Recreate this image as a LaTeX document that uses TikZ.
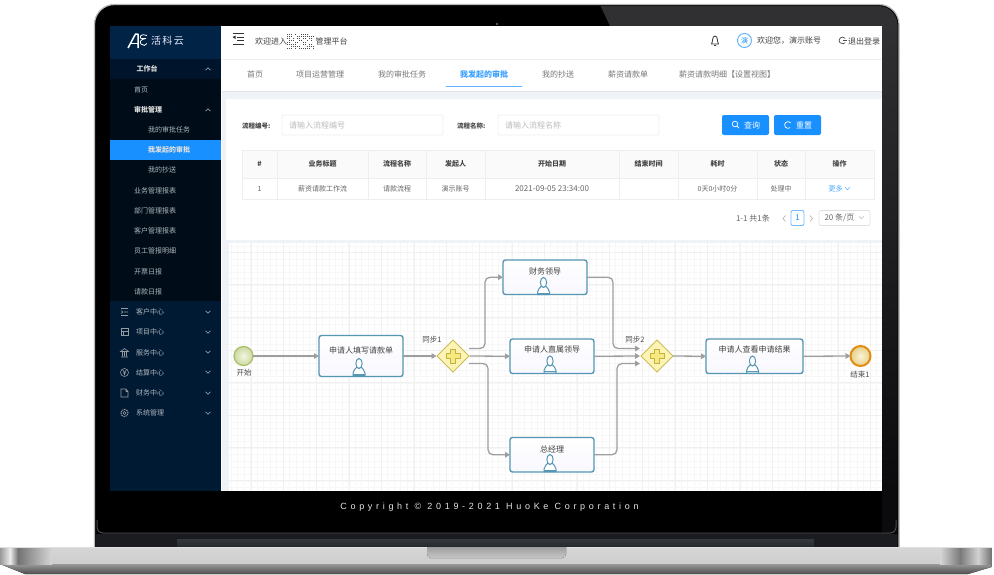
\documentclass[tikz,border=0pt]{standalone}
\usepackage{fontspec}
\setmainfont{Noto Sans CJK SC}
\newfontfamily\cpyfont[LetterSpace=41]{Liberation Sans}
\newfontfamily\logofont[LetterSpace=14]{Noto Sans CJK SC}
\usetikzlibrary{calc,arrows.meta,shapes.geometric}
\definecolor{ablue}{HTML}{1890FF}
\definecolor{sidetop}{HTML}{012446}
\definecolor{sidelow}{HTML}{001A33}
\definecolor{sidesub}{HTML}{000C17}
\definecolor{sidehead}{HTML}{00152B}
\definecolor{sidetxt}{HTML}{AEB6BE}
\definecolor{pagebg}{HTML}{EFF2F6}
\definecolor{lineg}{HTML}{EEEEEE}
\definecolor{tabtxt}{HTML}{777777}
\definecolor{tbltxt}{HTML}{666666}
\definecolor{headtxt}{HTML}{444444}
\definecolor{phold}{HTML}{BBBBBB}
\definecolor{tealb}{HTML}{5596B2}
\definecolor{conn}{HTML}{9E9E9E}
\definecolor{bezelg}{HTML}{303032}
\definecolor{bezeld}{HTML}{0B0B0D}
\definecolor{strip}{HTML}{1A1C20}
\definecolor{hinge}{HTML}{363A40}
\definecolor{hinged}{HTML}{24272B}
\definecolor{gatefill}{HTML}{FCF4B4}
\definecolor{gateline}{HTML}{CDBB55}
\definecolor{plusfill}{HTML}{F6E981}
\definecolor{plusline}{HTML}{C4B13E}
\definecolor{startline}{HTML}{A9C26B}
\definecolor{startin}{HTML}{F3F6E2}
\definecolor{startout}{HTML}{CBD9A0}
\definecolor{endline}{HTML}{E28C12}
\definecolor{endin}{HTML}{FBF4D6}
\definecolor{endout}{HTML}{E6D088}
\definecolor{basetop}{HTML}{D6D6D7}
\definecolor{basebot}{HTML}{CDCDCE}
\tikzset{
  x=1pt,y=-1pt,
  every node/.style={inner sep=0pt,outer sep=0pt},
  sideitem/.style={font=\fontsize{7}{8}\selectfont,text=sidetxt,anchor=west},
  sidebold/.style={sideitem,font=\fontsize{7}{8}\selectfont\bfseries,text=white!88!black},
  sidechev/.style={draw=sidetxt,line width=.6pt},
  sideicon/.style={draw=sidetxt!85!black,line width=.6pt},
  tabitem/.style={font=\fontsize{8}{9}\selectfont,text=tabtxt},
  tabactive/.style={tabitem,font=\fontsize{8}{9}\selectfont\bfseries,text=ablue!85!white},
  headitem/.style={font=\fontsize{8}{9}\selectfont,text=black!75},
  formlabel/.style={font=\fontsize{6.5}{8}\selectfont\bfseries,text=headtxt,anchor=west},
  inputbox/.style={draw=lineg,line width=.8pt,rounded corners=2pt,fill=white,anchor=north west},
  placeholder/.style={font=\fontsize{8}{9}\selectfont,text=phold,anchor=west},
  bluebtn/.style={fill=ablue,rounded corners=2pt,anchor=north west,minimum width=47pt,minimum height=20pt},
  btntxt/.style={font=\fontsize{8}{9}\selectfont,text=white},
  thtxt/.style={font=\fontsize{7}{8}\selectfont\bfseries,text=headtxt},
  tdtxt/.style={font=\fontsize{7}{8}\selectfont,text=tbltxt},
  pagetxt/.style={font=\fontsize{8}{9}\selectfont,text=tbltxt},
  task/.style={draw=tealb,line width=1.4pt,rounded corners=2.5pt,top color=white,bottom color=blue!3!white,anchor=north west},
  tasktxt/.style={font=\fontsize{8}{9}\selectfont,text=black!75},
  gate/.style={diamond,aspect=1,draw=gateline,line width=1pt,fill=gatefill,minimum width=32pt,minimum height=32pt},
  flowlbl/.style={font=\fontsize{7.5}{9}\selectfont,text=black!70},
  flow/.style={draw=conn,line width=1.3pt,rounded corners=5pt,-{Triangle[length=5pt,width=5.5pt]}},
  plus/.pic={
    \draw[plusline,fill=plusfill,line width=.9pt,line join=round]
      (-2.5,-7) -- (2.5,-7) -- (2.5,-2.5) -- (7,-2.5) -- (7,2.5) -- (2.5,2.5) -- (2.5,7) -- (-2.5,7) -- (-2.5,2.5) -- (-7,2.5) -- (-7,-2.5) -- (-2.5,-2.5) -- cycle;
  },
  person/.pic={
    \draw[tealb,line width=1pt,fill=white,line join=round]
      (-6,9) -- (-6,6.5) .. controls (-6,3) and (-3,3) .. (-2.6,1) -- (2.6,1) .. controls (3,3) and (6,3) .. (6,6.5) -- (6,9) -- cycle;
    \draw[tealb,line width=1pt,fill=white] (0,-3) ellipse [x radius=3.1pt,y radius=5pt];
    \draw[tealb,line width=1.2pt] (-6,7.8) -- (6,7.8);
  },
}
\newcommand{\chevup}[2]{\draw[sidechev] (#1-2.5,#2+1.2) -- (#1,#2-1.2) -- (#1+2.5,#2+1.2);}
\newcommand{\chevdn}[3][sidechev]{\draw[#1] (#2-2.5,#3-1.2) -- (#2,#3+1.2) -- (#2+2.5,#3-1.2);}
\begin{document}
\begin{tikzpicture}
\useasboundingbox (0,0) rectangle (994,574);
\fill[white] (0,0) rectangle (994,574);
% ---------- laptop lid
\draw[draw=black!28,line width=1.2pt,fill=black] (94.5,548) [rounded corners=20pt] -- (94.5,4.5) -- (899,4.5) [sharp corners] -- (899,548) -- cycle;
\begin{scope}
\clip (96,548) [rounded corners=19pt] -- (96,6) -- (897.5,6) [sharp corners] -- (897.5,548) -- cycle;
\fill[bezelg] (600,5) -- (899,5) -- (899,26) -- (610,26) -- cycle;
\fill[top color=bezelg,bottom color=bezeld] (882,26) rectangle (899,491);
\fill[bezeld] (882,491) rectangle (899,533);
\fill[strip] (96,534) rectangle (899,548);
\end{scope}
\draw[black!72,line width=1pt,rounded corners=6pt] (97,520) -- (97,533) -- (896,533) -- (896,520);
\fill[top color=hinge,bottom color=hinged] (177,539) rectangle (814,547);
\fill[black!55] (497,24) circle (1.2pt);
% ---------- screen
\fill[white] (110,26) rectangle (882,491);
\fill[pagebg] (222,91) rectangle (882,99);
\fill[pagebg] (222,91) rectangle (226,243);
\fill[pagebg] (222,240) rectangle (882,243);
\fill[pagebg] (222,243) rectangle (229,491);
% ---------- sidebar
\fill[sidelow] (110,26) rectangle (221,491);
\fill[sidetop] (110,26) rectangle (221,59);
\fill[sidehead] (110,59) rectangle (221,79);
\fill[sidesub] (110,79) rectangle (221,301);
\fill[ablue] (110,140) rectangle (221,160);
% logo
\draw[white,line width=1.5pt,line join=round] (128,48) -- (135.5,34) -- (138,34) -- (138,48);
\draw[white,line width=.9pt] (131,43) -- (138,43);
\draw[white,line width=.8pt] (147,35.5) .. controls (141,33) and (139,37) .. (141,38.5) -- (146,38.5) (146,38.5) .. controls (141,39) and (139,42) .. (141,44) .. controls (143,46) and (146,46) .. (147,43.5);
\node[font=\logofont\fontsize{10}{11}\selectfont,text=white!92!blue,anchor=west] (logotxt) at (151,40.5) {活科云};
% menu
\node[sidebold,anchor=center] (m1) at (147,69) {工作台};
\chevup{208}{69}
\node[sideitem] (m2) at (134,89.5) {首页};
\node[sidebold] (m3) at (134,110) {审批管理};
\chevup{208}{110}
\node[sideitem] (m4) at (148,130) {我的审批任务};
\node[sidebold] (m5) at (148,150) {我发起的审批};
\node[sideitem] (m6) at (148,170) {我的抄送};
\node[sideitem] (m7) at (134,190.5) {业务管理报表};
\node[sideitem] (m8) at (134,211) {部门管理报表};
\node[sideitem] (m9) at (134,231) {客户管理报表};
\node[sideitem] (m10) at (134,251) {员工管报明细};
\node[sideitem] (m11) at (134,271.5) {开票日报};
\node[sideitem] (m12) at (134,291.5) {请款日报};
\node[sideitem] (m13) at (136,312) {客户中心};
\node[sideitem] (m14) at (136,332) {项目中心};
\node[sideitem] (m15) at (136,352.5) {服务中心};
\node[sideitem] (m16) at (136,372.5) {结算中心};
\node[sideitem] (m17) at (136,393) {财务中心};
\node[sideitem] (m18) at (136,413) {系统管理};
\foreach \yy in {312,332,352,372,393,413}{\chevdn[sidechev]{208}{\yy}}
% side icons
\draw[sideicon] (121,308.5) -- (128,308.5) (124,312) -- (128,312) (121,315.5) -- (128,315.5) (121,310.5) -- (123,312) -- (121,313.5);
\draw[sideicon] (121,328.5) rectangle (128,335.5) (121,331) -- (128,331) (123.5,331) -- (123.5,335.5);
\draw[sideicon] (120.5,351.5) -- (124.5,348.5) -- (128.5,351.5) -- cycle (121,357) -- (128,357) (122.5,352) -- (122.5,356) (124.5,352) -- (124.5,356) (126.5,352) -- (126.5,356);
\draw[sideicon] (124.5,372.5) circle (4pt) (122.8,370.2) -- (124.5,372.5) -- (126.2,370.2) (124.5,372.5) -- (124.5,375) (123,373) -- (126,373);
\draw[sideicon] (121,389) -- (126,389) -- (128,391.5) -- (128,397) -- (121,397) -- cycle (126,389) -- (126,391.5) -- (128,391.5);
\draw[sideicon,dash pattern=on 1.4pt off .8pt,line width=1pt] (124.5,413) circle (3.6pt);
\draw[sideicon] (124.5,413) circle (1.5pt);
% ---------- header
\draw[black!80,line width=1pt] (233,33.5) -- (243.5,33.5) (236.5,37) -- (243.5,37) (236.5,40.5) -- (243.5,40.5) (233,44.5) -- (243.5,44.5);
\fill[black!80] (232.5,37) -- (235.5,35.5) -- (235.5,39) -- cycle;
\node[headitem,anchor=west] (wel1) at (255,41) {欢迎进入};
\pgfmathsetseed{7}
\foreach \i in {0,...,120}{
  \pgfmathsetmacro{\px}{287+int(rnd*14)*2}
  \pgfmathsetmacro{\py}{34+int(rnd*8)*2}
  \fill[black!70] (\px,\py) rectangle +(1.4,1.4);
}
\node[headitem,anchor=west] (wel2) at (315.5,41) {管理平台};
\draw[black!80,line width=.8pt,line join=round] (711.5,44) .. controls (713,42) and (712,36) .. (715,36) .. controls (718,36) and (717,42) .. (718.5,44) -- cycle (714,45.5) -- (716,45.5);
\node[circle,draw=ablue!65!white,line width=1pt,minimum size=14pt,font=\fontsize{7}{8}\selectfont,text=ablue] (avatar) at (744.5,40.5) {演};
\node[headitem,anchor=west] (hello) at (757,41) {欢迎您，演示账号};
\draw[black!70,line width=.7pt] (845.1,38.3) arc (40:320:3.4pt);
\draw[black!70,line width=.7pt] (842.5,40.5) -- (846.5,40.5);
\node[headitem,anchor=west] (logout) at (848,41) {退出登录};
% ---------- tabs
\draw[lineg,line width=.8pt] (222,59.5) -- (882,59.5);
\draw[black!10,line width=.8pt] (222,91) -- (882,91);
\node[tabitem] (tab1) at (255,74) {首页};
\node[tabitem] (tab2) at (320,74) {项目运营管理};
\node[tabitem] (tab3) at (402,74) {我的审批任务};
\node[tabactive] (tab4) at (484,74) {我发起的审批};
\node[tabitem] (tab5) at (558,74) {我的抄送};
\node[tabitem] (tab6) at (628,74) {薪资请款单};
\node[tabitem] (tab7) at (727,74) {薪资请款明细【设置视图】};
\draw[ablue!70!white,line width=1.1pt] (446,86.5) -- (522,86.5);
% ---------- form
\node[formlabel] (f1) at (242,126) {流程编号:};
\node[inputbox,minimum width=161pt,minimum height=20pt] (in1) at (282,115) {};
\node[placeholder] (ph1) at (289,125.5) {请输入流程编号};
\node[formlabel] (f2) at (457,126) {流程名称:};
\node[inputbox,minimum width=161pt,minimum height=20pt] (in2) at (498,115) {};
\node[placeholder] (ph2) at (505,125.5) {请输入流程名称};
\node[bluebtn] (b1) at (722,115) {};
\node[btntxt,anchor=west] (b1t) at (744,125.5) {查询};
\draw[white,line width=.7pt] (735,124) circle (2.8pt) (737,126) -- (739,128.2);
\node[bluebtn] (b2) at (774,115) {};
\node[btntxt,anchor=west] (b2t) at (796,125.5) {重置};
\draw[white,line width=.7pt] (790.6,122.8) arc (40:310:3.4pt);
% ---------- table
\fill[black!2] (242,150) rectangle (874,178);
\draw[lineg,line width=.8pt] (242,150) rectangle (874,199.5);
\draw[lineg,line width=.8pt] (242,178) -- (874,178);
\foreach \cx in {277,368,426,485,619,678,757,805}{\draw[lineg,line width=.8pt] (\cx,150) -- (\cx,199.5);}
\node[thtxt] (h1) at (259.5,164) {\#};
\node[thtxt] (h2) at (322.5,164) {业务标题};
\node[thtxt] (h3) at (397,164) {流程名称};
\node[thtxt] (h4) at (455.5,164) {发起人};
\node[thtxt] (h5) at (552,164) {开始日期};
\node[thtxt] (h6) at (648.5,164) {结束时间};
\node[thtxt] (h7) at (717.5,164) {耗时};
\node[thtxt] (h8) at (781,164) {状态};
\node[thtxt] (h9) at (839.5,164) {操作};
\node[tdtxt] (d1) at (259.5,189) {1};
\node[tdtxt] (d2) at (322.5,189) {薪资请款工作流};
\node[tdtxt] (d3) at (397,189) {请款流程};
\node[tdtxt] (d4) at (455.5,189) {演示账号};
\node[tdtxt,font=\fontsize{8}{9}\selectfont] (d5) at (552,189) {2021-09-05 23:34:00};
\node[tdtxt] (d7) at (717.5,189) {0天0小时0分};
\node[tdtxt] (d8) at (781,189) {处理中};
\node[font=\fontsize{7}{8}\selectfont,text=ablue!80!white] (d9) at (835.5,189) {更多};
\chevdn[draw=ablue!70!white,line width=.5pt]{847.5}{188.5}
% ---------- pagination
\node[pagetxt,anchor=west] (pg) at (736,218) {1-1 共1条};
\draw[black!30,line width=.6pt] (785.5,215.5) -- (783,218.5) -- (785.5,221.5) (810,215.5) -- (812.5,218.5) -- (810,221.5);
\node[draw=ablue!60!white,line width=.9pt,rounded corners=2pt,minimum width=13pt,minimum height=15pt,font=\fontsize{8}{9}\selectfont,text=ablue] (pg1) at (797.5,218) {1};
\node[draw=black!12,line width=.7pt,rounded corners=2pt,minimum width=51pt,minimum height=15pt,anchor=west] (pgsel) at (819,218) {};
\node[pagetxt,anchor=west] (pgseltxt) at (824.5,218) {20 条/页};
\chevdn[draw=black!25,line width=.5pt]{861.5}{217.5}
% ---------- canvas grid
\begin{scope}
\clip (229,243) rectangle (882,491);
\foreach \gx in {0,...,100}{\draw[black!3,line width=.4pt] (231+\gx*6.52,243) -- (231+\gx*6.52,491);}
\foreach \gy in {0,...,38}{\draw[black!3,line width=.4pt] (229,246+\gy*6.52) -- (882,246+\gy*6.52);}
\foreach \gx in {0,...,20}{\draw[black!6,line width=.6pt] (251+\gx*32.6,243) -- (251+\gx*32.6,491);}
\foreach \gy in {0,...,8}{\draw[black!6,line width=.6pt] (229,252+\gy*32.6) -- (882,252+\gy*32.6);}
\end{scope}
% ---------- process nodes
\node[circle,draw=startline,line width=1.3pt,minimum size=19pt,inner color=startin,outer color=startout] (start) at (243.5,356) {};
\node[font=\fontsize{7.5}{9}\selectfont,text=black!70] (startl) at (244,373) {开始};
\node[task,minimum width=84pt,minimum height=41pt] (t1) at (319,335.5) {};
\node[tasktxt] (t1l) at ($(t1.north)+(0,15)$) {申请人填写请款单};
\pic at (359,366.5) {person};
\node[gate] (g1) at (453,356) {};
\pic at (g1.center) {plus};
\node[flowlbl] (g1l) at (432,340) {同步1};
\node[task,minimum width=84pt,minimum height=34.5pt] (t2) at (503,260) {};
\node[tasktxt] (t2l) at ($(t2.north)+(0,11)$) {财务领导};
\pic at (543.5,285.5) {person};
\node[task,minimum width=84pt,minimum height=34.5pt] (t3) at (510,339) {};
\node[tasktxt] (t3l) at ($(t3.north)+(0,10)$) {申请人直属领导};
\pic at (550,364) {person};
\node[task,minimum width=84pt,minimum height=34.5pt] (t4) at (510,437.5) {};
\node[tasktxt] (t4l) at ($(t4.north)+(0,11.5)$) {总经理};
\pic at (550,462.5) {person};
\node[gate] (g2) at (657,356) {};
\pic at (g2.center) {plus};
\node[flowlbl] (g2l) at (635,340) {同步2};
\node[task,minimum width=97pt,minimum height=34.5pt] (t5) at (706,339) {};
\node[tasktxt] (t5l) at ($(t5.north)+(0,10)$) {申请人查看申请结果};
\pic at (752.5,364) {person};
\node[circle,draw=endline,line width=2pt,minimum size=20pt,inner color=endin,outer color=endout] (end) at (860.5,356) {};
\node[font=\fontsize{7.5}{9}\selectfont,text=black!70] (endl) at (860,374.5) {结束1};
% ---------- connectors
\coordinate (g1up) at ($(g1.center)+(16,-7.5)$);
\coordinate (g1dn) at ($(g1.center)+(16,7.5)$);
\coordinate (g1in) at ($(g1.center)+(-16.5,0)$);
\coordinate (g1mid) at ($(g1.center)+(16.5,0)$);
\coordinate (g2up) at ($(g2.center)+(-17,-7.5)$);
\coordinate (g2dn) at ($(g2.center)+(-17,7.5)$);
\coordinate (g2mid) at ($(g2.center)+(-17,0)$);
\draw[flow] (start.east) -- (t1.west);
\draw[flow] (t1.east) -- (g1in);
\draw[flow] (g1up) -- ++(16,0) |- (t2.west);
\draw[flow] (g1mid) -- (t3.west);
\draw[flow] (g1dn) -- ++(19,0) |- (t4.west);
\draw[flow] (t2.east) -- ++(26,0) |- (g2up);
\draw[flow] (t3.east) -- (g2mid);
\draw[flow] (t4.east) -- ++(23,0) |- (g2dn);
\draw[flow] (g2.east) -- (t5.west);
\draw[flow] (t5.east) -- (end.west);
% ---------- copyright
\node[font=\cpyfont\fontsize{9}{10}\selectfont,text=white!90!black] (copy) at (489.5,507) {Copyright © 2019-2021 HuoKe Corporation};
% ---------- base
\fill[top color=basetop,bottom color=basebot] (0,547) rectangle (991.5,564);
\fill[top color=black!40,bottom color=black!70] (0,564) -- (991.5,564) -- (991.5,567) -- (968,574) -- (25,574) -- cycle;
\fill[left color=black!40,right color=black!8] (0,547) rectangle (10,564);
\fill[left color=black!8,right color=black!55] (10,547) rectangle (18,564);
\fill[left color=black!55,right color=basetop] (18,547) rectangle (52,564);
\fill[left color=basetop,right color=black!52] (940,547) rectangle (960,564);
\fill[left color=black!52,right color=black!18] (960,547) rectangle (978,564);
\fill[left color=black!18,right color=black!55] (978,547) rectangle (991.5,564);
\draw[black!12,line width=.5pt] (0,547) -- (991.5,547);
\begin{scope}
\clip (420,547) rectangle (575,560);
\fill[top color=black!48,bottom color=black!22,rounded corners=4pt] (427,540) -- (566,540) -- (566,558) -- (427,558) -- cycle;
\end{scope}
\end{tikzpicture}
\end{document}
